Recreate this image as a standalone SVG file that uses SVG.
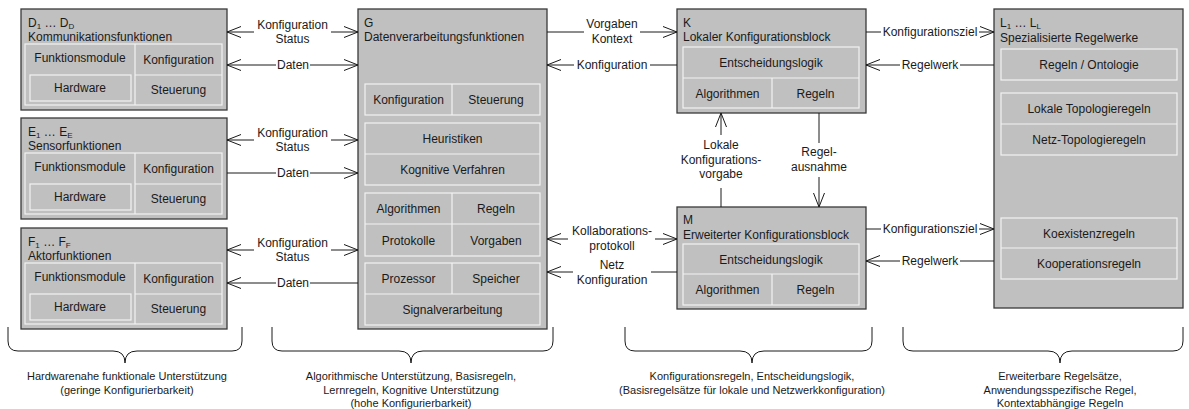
<svg xmlns="http://www.w3.org/2000/svg" width="1189" height="409" viewBox="0 0 1189 409">
<style>
.bg{fill:#ffffff}
.box{fill:#c0c0c0;stroke:#3a3a3a;stroke-width:1.3}
.cell{fill:#c0c0c0;stroke:#f2f2f2;stroke-width:1.2}
.dv{stroke:#f2f2f2;stroke-width:1.2}
.t{font-family:"Liberation Sans",Arial,sans-serif;font-size:12px;fill:#1a1a1a}
.c{text-anchor:middle}
.b{font-size:11px}
.sub{font-size:8px}
.ln{stroke:#1a1a1a;stroke-width:1;fill:none}
.s{marker-start:url(#ah)}
.e{marker-end:url(#ah)}
</style>
<defs>
<marker id="ah" markerUnits="userSpaceOnUse" markerWidth="16" markerHeight="14" viewBox="-15 -7 16 14" refX="0" refY="0" orient="auto-start-reverse">
<path d="M-14,-5.5 L0,0 L-14,5.5" fill="none" stroke="#1a1a1a" stroke-width="1"/>
</marker>
</defs>
<rect class="bg" x="0" y="0" width="1189" height="409"/>

<g id="D">
<rect class="box" x="21" y="9" width="206" height="101"/>
<text class="t" x="28" y="27">D<tspan class="sub" dy="2">1</tspan><tspan dy="-2"> … D</tspan><tspan class="sub" dy="2">D</tspan></text>
<text class="t" x="28" y="41">Kommunikationsfunktionen</text>
<rect class="cell" x="25" y="44" width="197" height="61"/>
<line class="dv" x1="135" y1="44" x2="135" y2="105"/>
<line class="dv" x1="135" y1="75" x2="222" y2="75"/>
<rect class="cell" x="30" y="75" width="101" height="26"/>
<text class="t c" x="80" y="62">Funktionsmodule</text>
<text class="t c" x="178.5" y="64">Konfiguration</text>
<text class="t c" x="80" y="92">Hardware</text>
<text class="t c" x="178.5" y="94">Steuerung</text>
</g>

<g id="E">
<rect class="box" x="21" y="118" width="206" height="101"/>
<text class="t" x="28" y="136">E<tspan class="sub" dy="2">1</tspan><tspan dy="-2"> … E</tspan><tspan class="sub" dy="2">E</tspan></text>
<text class="t" x="28" y="150">Sensorfunktionen</text>
<rect class="cell" x="25" y="153" width="197" height="61"/>
<line class="dv" x1="135" y1="153" x2="135" y2="214"/>
<line class="dv" x1="135" y1="184" x2="222" y2="184"/>
<rect class="cell" x="30" y="184" width="101" height="26"/>
<text class="t c" x="80" y="171">Funktionsmodule</text>
<text class="t c" x="178.5" y="173">Konfiguration</text>
<text class="t c" x="80" y="201">Hardware</text>
<text class="t c" x="178.5" y="203">Steuerung</text>
</g>

<g id="F">
<rect class="box" x="21" y="228" width="206" height="101"/>
<text class="t" x="28" y="246">F<tspan class="sub" dy="2">1</tspan><tspan dy="-2"> … F</tspan><tspan class="sub" dy="2">F</tspan></text>
<text class="t" x="28" y="260">Aktorfunktionen</text>
<rect class="cell" x="25" y="263" width="197" height="61"/>
<line class="dv" x1="135" y1="263" x2="135" y2="324"/>
<line class="dv" x1="135" y1="294" x2="222" y2="294"/>
<rect class="cell" x="30" y="294" width="101" height="26"/>
<text class="t c" x="80" y="281">Funktionsmodule</text>
<text class="t c" x="178.5" y="283">Konfiguration</text>
<text class="t c" x="80" y="311">Hardware</text>
<text class="t c" x="178.5" y="313">Steuerung</text>
</g>

<g id="G">
<rect class="box" x="358" y="9" width="189" height="320"/>
<text class="t" x="364" y="27">G</text>
<text class="t" x="364" y="41">Datenverarbeitungsfunktionen</text>
<rect class="cell" x="365" y="84" width="175" height="31"/>
<line class="dv" x1="452" y1="84" x2="452" y2="115"/>
<text class="t c" x="408.5" y="104">Konfiguration</text>
<text class="t c" x="496" y="104">Steuerung</text>
<rect class="cell" x="365" y="123" width="175" height="62"/>
<line class="dv" x1="365" y1="154" x2="540" y2="154"/>
<text class="t c" x="452.5" y="143">Heuristiken</text>
<text class="t c" x="452.5" y="174">Kognitive Verfahren</text>
<rect class="cell" x="365" y="193" width="175" height="63"/>
<line class="dv" x1="365" y1="224" x2="540" y2="224"/>
<line class="dv" x1="452" y1="193" x2="452" y2="256"/>
<text class="t c" x="408.5" y="213">Algorithmen</text>
<text class="t c" x="496" y="213">Regeln</text>
<text class="t c" x="408.5" y="244.5">Protokolle</text>
<text class="t c" x="496" y="244.5">Vorgaben</text>
<rect class="cell" x="365" y="263" width="175" height="62"/>
<line class="dv" x1="365" y1="294" x2="540" y2="294"/>
<line class="dv" x1="452" y1="263" x2="452" y2="294"/>
<text class="t c" x="408.5" y="283">Prozessor</text>
<text class="t c" x="496" y="283">Speicher</text>
<text class="t c" x="452.5" y="314">Signalverarbeitung</text>
</g>

<g id="K">
<rect class="box" x="677" y="9" width="189" height="104"/>
<text class="t" x="683" y="27">K</text>
<text class="t" x="683" y="41">Lokaler Konfigurationsblock</text>
<rect class="cell" x="683" y="47" width="176" height="61"/>
<line class="dv" x1="683" y1="78" x2="859" y2="78"/>
<line class="dv" x1="772" y1="78" x2="772" y2="108"/>
<text class="t c" x="771" y="67">Entscheidungslogik</text>
<text class="t c" x="727.5" y="97.5">Algorithmen</text>
<text class="t c" x="815.5" y="97.5">Regeln</text>
</g>

<g id="M">
<rect class="box" x="677" y="207" width="189" height="102"/>
<text class="t" x="683" y="224">M</text>
<text class="t" x="683" y="239">Erweiterter Konfigurationsblock</text>
<rect class="cell" x="683" y="244" width="176" height="61"/>
<line class="dv" x1="683" y1="274" x2="859" y2="274"/>
<line class="dv" x1="772" y1="274" x2="772" y2="305"/>
<text class="t c" x="771" y="263.5">Entscheidungslogik</text>
<text class="t c" x="727.5" y="294">Algorithmen</text>
<text class="t c" x="815.5" y="294">Regeln</text>
</g>

<g id="L">
<rect class="box" x="994" y="9" width="189" height="299"/>
<text class="t" x="1000" y="27">L<tspan class="sub" dy="2">1</tspan><tspan dy="-2"> … L</tspan><tspan class="sub" dy="2">L</tspan></text>
<text class="t" x="1000" y="42">Spezialisierte Regelwerke</text>
<rect class="cell" x="1001" y="49" width="176" height="31"/>
<text class="t c" x="1089" y="69">Regeln / Ontologie</text>
<rect class="cell" x="1001" y="93" width="176" height="62"/>
<line class="dv" x1="1001" y1="124" x2="1177" y2="124"/>
<text class="t c" x="1089" y="113">Lokale Topologieregeln</text>
<text class="t c" x="1089" y="144">Netz-Topologieregeln</text>
<rect class="cell" x="1001" y="218" width="176" height="61"/>
<line class="dv" x1="1001" y1="248" x2="1177" y2="248"/>
<text class="t c" x="1089" y="237.5">Koexistenzregeln</text>
<text class="t c" x="1089" y="268">Kooperationsregeln</text>
</g>

<g id="connectors">
<line class="ln s" x1="227" y1="32" x2="254" y2="32"/>
<line class="ln e" x1="331" y1="32" x2="358" y2="32"/>
<text class="t c" x="292.5" y="29">Konfiguration</text>
<text class="t c" x="292.5" y="43">Status</text>
<line class="ln s" x1="227" y1="65" x2="276" y2="65"/>
<line class="ln e" x1="310" y1="65" x2="358" y2="65"/>
<text class="t c" x="293" y="69">Daten</text>

<line class="ln s" x1="227" y1="140" x2="254" y2="140"/>
<line class="ln e" x1="331" y1="140" x2="358" y2="140"/>
<text class="t c" x="292.5" y="137">Konfiguration</text>
<text class="t c" x="292.5" y="151">Status</text>
<line class="ln" x1="227" y1="173" x2="276" y2="173"/>
<line class="ln e" x1="310" y1="173" x2="358" y2="173"/>
<text class="t c" x="293" y="177">Daten</text>

<line class="ln s" x1="227" y1="250" x2="254" y2="250"/>
<line class="ln e" x1="331" y1="250" x2="358" y2="250"/>
<text class="t c" x="292.5" y="247">Konfiguration</text>
<text class="t c" x="292.5" y="261">Status</text>
<line class="ln s" x1="227" y1="283" x2="276" y2="283"/>
<line class="ln" x1="310" y1="283" x2="358" y2="283"/>
<text class="t c" x="293" y="287">Daten</text>

<line class="ln" x1="547" y1="32" x2="584" y2="32"/>
<line class="ln e" x1="640" y1="32" x2="677" y2="32"/>
<text class="t c" x="612" y="28">Vorgaben</text>
<text class="t c" x="612" y="43">Kontext</text>
<line class="ln s" x1="547" y1="65" x2="574" y2="65"/>
<line class="ln" x1="650" y1="65" x2="677" y2="65"/>
<text class="t c" x="612" y="69">Konfiguration</text>

<line class="ln s" x1="547" y1="239" x2="568" y2="239"/>
<line class="ln e" x1="655" y1="239" x2="677" y2="239"/>
<text class="t c" x="612" y="235">Kollaborations-</text>
<text class="t c" x="612" y="250">protokoll</text>
<line class="ln s" x1="547" y1="272" x2="573" y2="272"/>
<line class="ln" x1="651" y1="272" x2="677" y2="272"/>
<text class="t c" x="612" y="269">Netz</text>
<text class="t c" x="612" y="284">Konfiguration</text>

<line class="ln" x1="866" y1="32" x2="881" y2="32"/>
<line class="ln e" x1="979" y1="32" x2="994" y2="32"/>
<text class="t c" x="930" y="36">Konfigurationsziel</text>
<line class="ln s" x1="866" y1="65" x2="900" y2="65"/>
<line class="ln" x1="960" y1="65" x2="994" y2="65"/>
<text class="t c" x="930" y="69">Regelwerk</text>

<line class="ln" x1="866" y1="229" x2="881" y2="229"/>
<line class="ln e" x1="979" y1="229" x2="994" y2="229"/>
<text class="t c" x="930" y="233">Konfigurationsziel</text>
<line class="ln s" x1="866" y1="261" x2="900" y2="261"/>
<line class="ln" x1="960" y1="261" x2="994" y2="261"/>
<text class="t c" x="930" y="265">Regelwerk</text>

<line class="ln s" x1="721" y1="113" x2="721" y2="135"/>
<line class="ln" x1="721" y1="188" x2="721" y2="207"/>
<text class="t c" x="721" y="149">Lokale</text>
<text class="t c" x="721" y="164">Konfigurations-</text>
<text class="t c" x="721" y="178">vorgabe</text>
<line class="ln" x1="819" y1="113" x2="819" y2="143"/>
<line class="ln e" x1="819" y1="177" x2="819" y2="207"/>
<text class="t c" x="819" y="156">Regel-</text>
<text class="t c" x="819" y="171">ausnahme</text>
</g>

<g id="braces">
<path class="ln" d="M8,327 L8,341 Q8,351 18,351 L113,351 Q125,351 125,363 Q125,351 137,351 L232,351 Q242,351 242,341 L242,327"/>
<path class="ln" d="M272,327 L272,341 Q272,351 282,351 L399,351 Q411,351 411,363 Q411,351 423,351 L543,351 Q553,351 553,341 L553,327"/>
<path class="ln" d="M625,327 L625,341 Q625,351 635,351 L740,351 Q752,351 752,363 Q752,351 764,351 L862,351 Q872,351 872,341 L872,327"/>
<path class="ln" d="M903,327 L903,341 Q903,351 913,351 L1048,351 Q1060,351 1060,363 Q1060,351 1072,351 L1173,351 Q1183,351 1183,341 L1183,327"/>
<text class="t c b" x="127" y="380">Hardwarenahe funktionale Unterstützung</text>
<text class="t c b" x="127" y="394">(geringe Konfigurierbarkeit)</text>
<text class="t c b" x="411" y="380">Algorithmische Unterstützung, Basisregeln,</text>
<text class="t c b" x="411" y="394">Lernregeln, Kognitive Unterstützung</text>
<text class="t c b" x="411" y="407">(hohe Konfigurierbarkeit)</text>
<text class="t c b" x="752" y="380">Konfigurationsregeln, Entscheidungslogik,</text>
<text class="t c b" x="752" y="394">(Basisregelsätze für lokale und Netzwerkkonfiguration)</text>
<text class="t c b" x="1060" y="380">Erweiterbare Regelsätze,</text>
<text class="t c b" x="1060" y="394">Anwendungsspezifische Regel,</text>
<text class="t c b" x="1060" y="407">Kontextabhängige Regeln</text>
</g>
</svg>
